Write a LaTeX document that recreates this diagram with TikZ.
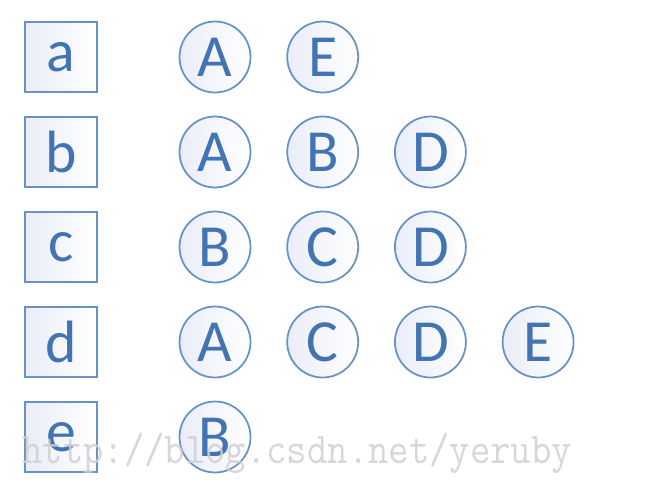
\documentclass[tikz,border=0pt]{standalone}
\usepackage{fontspec}
\setmainfont{Carlito}
\usepackage{xcolor}
\usetikzlibrary{positioning}
\definecolor{itemBlue}{RGB}{66,116,180}
\definecolor{itemLine}{RGB}{104,145,198}
\definecolor{itemShade}{RGB}{234,237,248}
\definecolor{markGray}{RGB}{208,208,208}
\tikzset{
  keybox/.style={draw=itemLine, line width=1pt, minimum width=1.44cm, minimum height=1.4cm,
    inner sep=0pt, text=itemBlue, font=\fontsize{34}{40}\selectfont,
    left color=itemShade, right color=white},
  itemcirc/.style={circle, draw=itemLine, line width=1pt, minimum size=1.42cm,
    inner sep=0pt, text=itemBlue, font=\fontsize{34}{40}\selectfont,
    left color=itemShade, right color=white}
}

\begin{document}
\begin{tikzpicture}[x=0.02cm, y=-0.02cm]
\useasboundingbox (0,0) rectangle (670,488);

\foreach \k/\y/\lst in {a/57/{A,E}, b/152/{A,B,D}, c/247/{B,C,D}, d/342/{A,C,D,E}, e/437/{B}} {
  \node[keybox] (key-\k) at (61,\y) {\k};
  \foreach \c [count=\i] in \lst
    \node[itemcirc] (\k-\i) at ({215+107.7*(\i-1)},\y) {\c};
}

\node[anchor=base west, text=markGray, opacity=0.85, inner sep=0pt, xscale=0.9, transform shape,
  font=\ttfamily\fontsize{25}{28}\selectfont] (mark) at (22,463) {http://blog.csdn.net/yeruby};
\end{tikzpicture}
\end{document}
